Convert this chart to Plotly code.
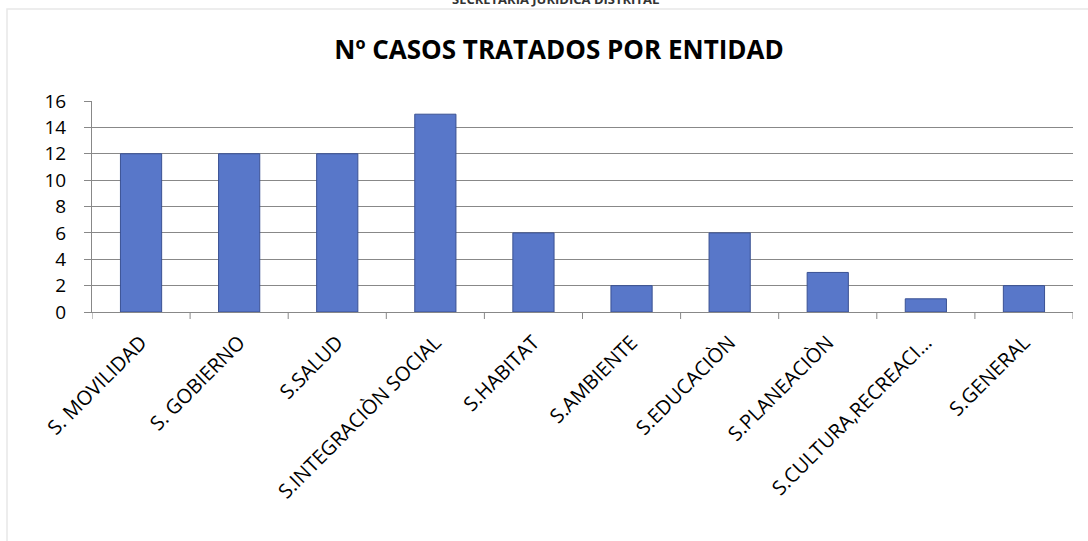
import plotly.graph_objects as go

categories = ["S. MOVILIDAD", "S. GOBIERNO", "S.SALUD", "S.INTEGRACIÒN SOCIAL", "S.HABITAT",
              "S.AMBIENTE", "S.EDUCACIÒN", "S.PLANEACIÒN", "S.CULTURA,RECREACI…", "S.GENERAL"]
values = [12, 12, 12, 15, 6, 2, 6, 3, 1, 2]
y_ticks = [0, 2, 4, 6, 8, 10, 12, 14, 16]

title_text = "Nº CASOS TRATADOS POR ENTIDAD"
header_text = "SECRETARIA JURIDICA DISTRITAL"

L, R, T, B = 92, 15, 101, 229
W, H = 1088, 541
pw = W - L - R
ph = H - T - B

fig = go.Figure()
fig.add_trace(go.Bar(
    x=list(range(len(categories))), y=values, width=0.42,
    marker=dict(color="#5877c9", line=dict(color="#3a5193", width=1)),
    hoverinfo="y",
))

font_main = "'Open Sans', sans-serif"

fig.update_layout(
    width=W, height=H,
    margin=dict(l=L, r=R, t=T, b=B),
    paper_bgcolor="white", plot_bgcolor="white",
    showlegend=False,
    font=dict(family=font_main, color="black"),
    title=dict(text="<b>" + title_text + "</b>", x=559 / W, xanchor="center",
               xref="container", y=1 - 50 / H, yref="container", yanchor="middle",
               font=dict(size=26, family=font_main, color="black")),
    xaxis=dict(
        tickmode="array", tickvals=list(range(len(categories))), ticktext=categories,
        range=[-0.5, len(categories) - 0.5],
        tickangle=-45, tickfont=dict(size=20), ticklabelstandoff=10,
        showline=True, linecolor="#888888", linewidth=1,
        ticks="", showgrid=False, zeroline=False,
    ),
    yaxis=dict(
        range=[0, 16], tickmode="array", tickvals=y_ticks,
        tickfont=dict(size=19), ticklabelstandoff=14,
        showgrid=True, gridcolor="#888888", gridwidth=1,
        showline=True, linecolor="#888888", linewidth=1,
        ticks="outside", ticklen=7, tickcolor="#888888",
        zeroline=False,
    ),
    bargap=0.58,
)

# category boundary tick marks on the x axis
for i in range(len(categories) + 1):
    fig.add_shape(type="line", xref="x", yref="paper",
                  x0=i - 0.5, x1=i - 0.5, y0=0, y1=-7 / ph,
                  line=dict(color="#888888", width=1))

# light chart-area border
fig.add_shape(type="rect", xref="paper", yref="paper",
              x0=(7 - L) / pw, x1=1.2, y0=-1.5, y1=(H - B - 9) / ph,
              line=dict(color="#e8e8e8", width=1.5), layer="below")

# clipped page header at the very top
fig.add_annotation(text="<b>" + header_text + "</b>", xref="paper", yref="paper",
                   x=(555 - L) / pw, y=(H - B + 1) / ph, xanchor="center", yanchor="middle",
                   showarrow=False, font=dict(size=13, color="#333", family=font_main))

fig.write_html("out.html", config={"displayModeBar": False},
               post_script="document.body.style.margin='0';")
